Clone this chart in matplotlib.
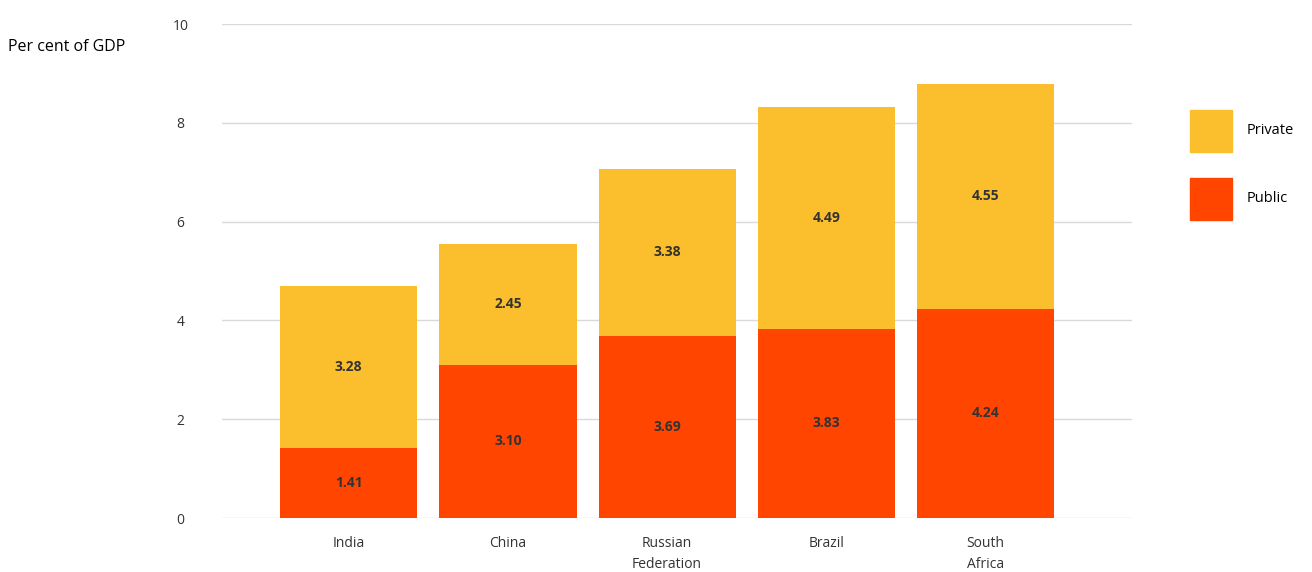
import matplotlib.pyplot as plt
from matplotlib.patches import Rectangle

plt.rcParams['font.family'] = ['Open Sans', 'DejaVu Sans']

countries = ['India', 'China', 'Russian\nFederation', 'Brazil', 'South\nAfrica']
public = [1.41, 3.10, 3.69, 3.83, 4.24]
private = [3.28, 2.45, 3.38, 4.49, 4.55]
yticks = [0, 2, 4, 6, 8, 10]

c_public = '#FF4500'
c_private = '#FBBE2C'
text_c = '#333333'

W, H = 1312, 572
fig = plt.figure(figsize=(W / 100, H / 100), dpi=100)
ax = fig.add_axes([0.1692, 0.0944, 0.6936, 0.8636])

x = range(len(countries))
ax.bar(x, public, width=0.862, color=c_public, zorder=2)
ax.bar(x, private, bottom=public, width=0.862, color=c_private, zorder=2)

for i in x:
    ax.text(i, public[i] / 2, f'{public[i]:.2f}', ha='center', va='center',
            fontsize=10, fontweight='bold', color=text_c)
    ax.text(i, public[i] + private[i] / 2, f'{private[i]:.2f}', ha='center',
            va='center', fontsize=10, fontweight='bold', color=text_c)

ax.set_xlim(-0.796, 4.92)
ax.set_ylim(0, 10)
ax.set_yticks(yticks)
ax.set_xticks(list(x))
ax.set_xticklabels(countries, fontsize=10, color=text_c, linespacing=1.5)
ax.tick_params(axis='y', length=0, pad=30, labelsize=10, labelcolor=text_c)
for lbl in ax.get_yticklabels():
    lbl.set_horizontalalignment('center')
ax.tick_params(axis='x', length=0, pad=13)
ax.grid(axis='y', color='#D9D9D9', linewidth=1, zorder=0)
for s in ax.spines.values():
    s.set_visible(False)

fig.text(8 / W, 1 - 47 / H, 'Per cent of GDP', fontsize=11.5,
         color='black', ha='left', va='center')

# legend: square swatches with labels to the right
for top, color, name in [(110, c_private, 'Private'), (178, c_public, 'Public')]:
    fig.add_artist(Rectangle((1190 / W, 1 - (top + 42) / H), 42 / W, 42 / H,
                             transform=fig.transFigure, color=color))
    fig.text(1247 / W, 1 - (top + 21) / H, name, fontsize=10.5, color='black',
             ha='left', va='center')

fig.savefig('out.png', dpi=100)
